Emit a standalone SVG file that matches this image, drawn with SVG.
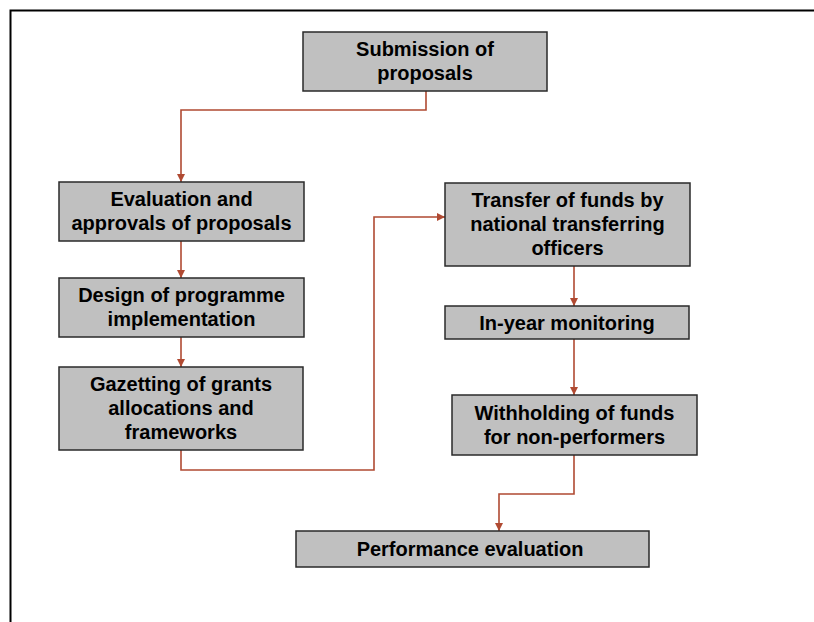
<svg xmlns="http://www.w3.org/2000/svg" width="814" height="622" viewBox="0 0 814 622">
<defs>
<style>
.box{fill:#c0c0c0;stroke:#2a2a2a;stroke-width:1.5}
.t{font-family:"Liberation Sans",Arial,sans-serif;font-weight:bold;font-size:20px;fill:#000;text-anchor:middle}
.c{fill:none;stroke:#b04a32;stroke-width:1.6}
</style>
<marker id="ah" viewBox="0 0 10 10" refX="10" refY="5" markerWidth="8" markerHeight="8" markerUnits="userSpaceOnUse" orient="auto">
<path d="M0,0 L10,5 L0,10 z" fill="#b04a32"/>
</marker>
</defs>
<rect x="0" y="0" width="814" height="622" fill="#fff"/>
<path d="M10.5,622 V10.5 H814" fill="none" stroke="#000" stroke-width="2"/>
<g id="connectors">
<path class="c" d="M426,91 V110 H181 V182" marker-end="url(#ah)"/>
<path class="c" d="M181,241 V278" marker-end="url(#ah)"/>
<path class="c" d="M181,337 V367" marker-end="url(#ah)"/>
<path class="c" d="M181,450 V470 H374 V217 H445" marker-end="url(#ah)"/>
<path class="c" d="M574,266 V306" marker-end="url(#ah)"/>
<path class="c" d="M574,339 V395" marker-end="url(#ah)"/>
<path class="c" d="M574,455 V494 H499 V531" marker-end="url(#ah)"/>
</g>
<g id="n1"><rect class="box" x="303" y="32" width="244" height="59"/><text class="t" x="425" y="55.5">Submission of</text><text class="t" x="425" y="79.5">proposals</text></g>
<g id="n2"><rect class="box" x="59" y="182" width="245" height="59"/><text class="t" x="181.5" y="206">Evaluation and</text><text class="t" x="181.5" y="230">approvals of proposals</text></g>
<g id="n3"><rect class="box" x="59" y="278" width="245" height="59"/><text class="t" x="181.5" y="302">Design of programme</text><text class="t" x="181.5" y="326">implementation</text></g>
<g id="n4"><rect class="box" x="59" y="367" width="244" height="83"/><text class="t" x="181" y="391">Gazetting of grants</text><text class="t" x="181" y="415">allocations and</text><text class="t" x="181" y="439">frameworks</text></g>
<g id="n5"><rect class="box" x="445" y="183" width="245" height="83"/><text class="t" x="567.5" y="207">Transfer of funds by</text><text class="t" x="567.5" y="231">national transferring</text><text class="t" x="567.5" y="255">officers</text></g>
<g id="n6"><rect class="box" x="445" y="306" width="244" height="33"/><text class="t" x="567" y="329.5">In-year monitoring</text></g>
<g id="n7"><rect class="box" x="452" y="395" width="245" height="60"/><text class="t" x="574.5" y="419.5">Withholding of funds</text><text class="t" x="574.5" y="443.5">for non-performers</text></g>
<g id="n8"><rect class="box" x="296" y="531" width="353" height="36"/><text class="t" x="470" y="556">Performance evaluation</text></g>
</svg>
